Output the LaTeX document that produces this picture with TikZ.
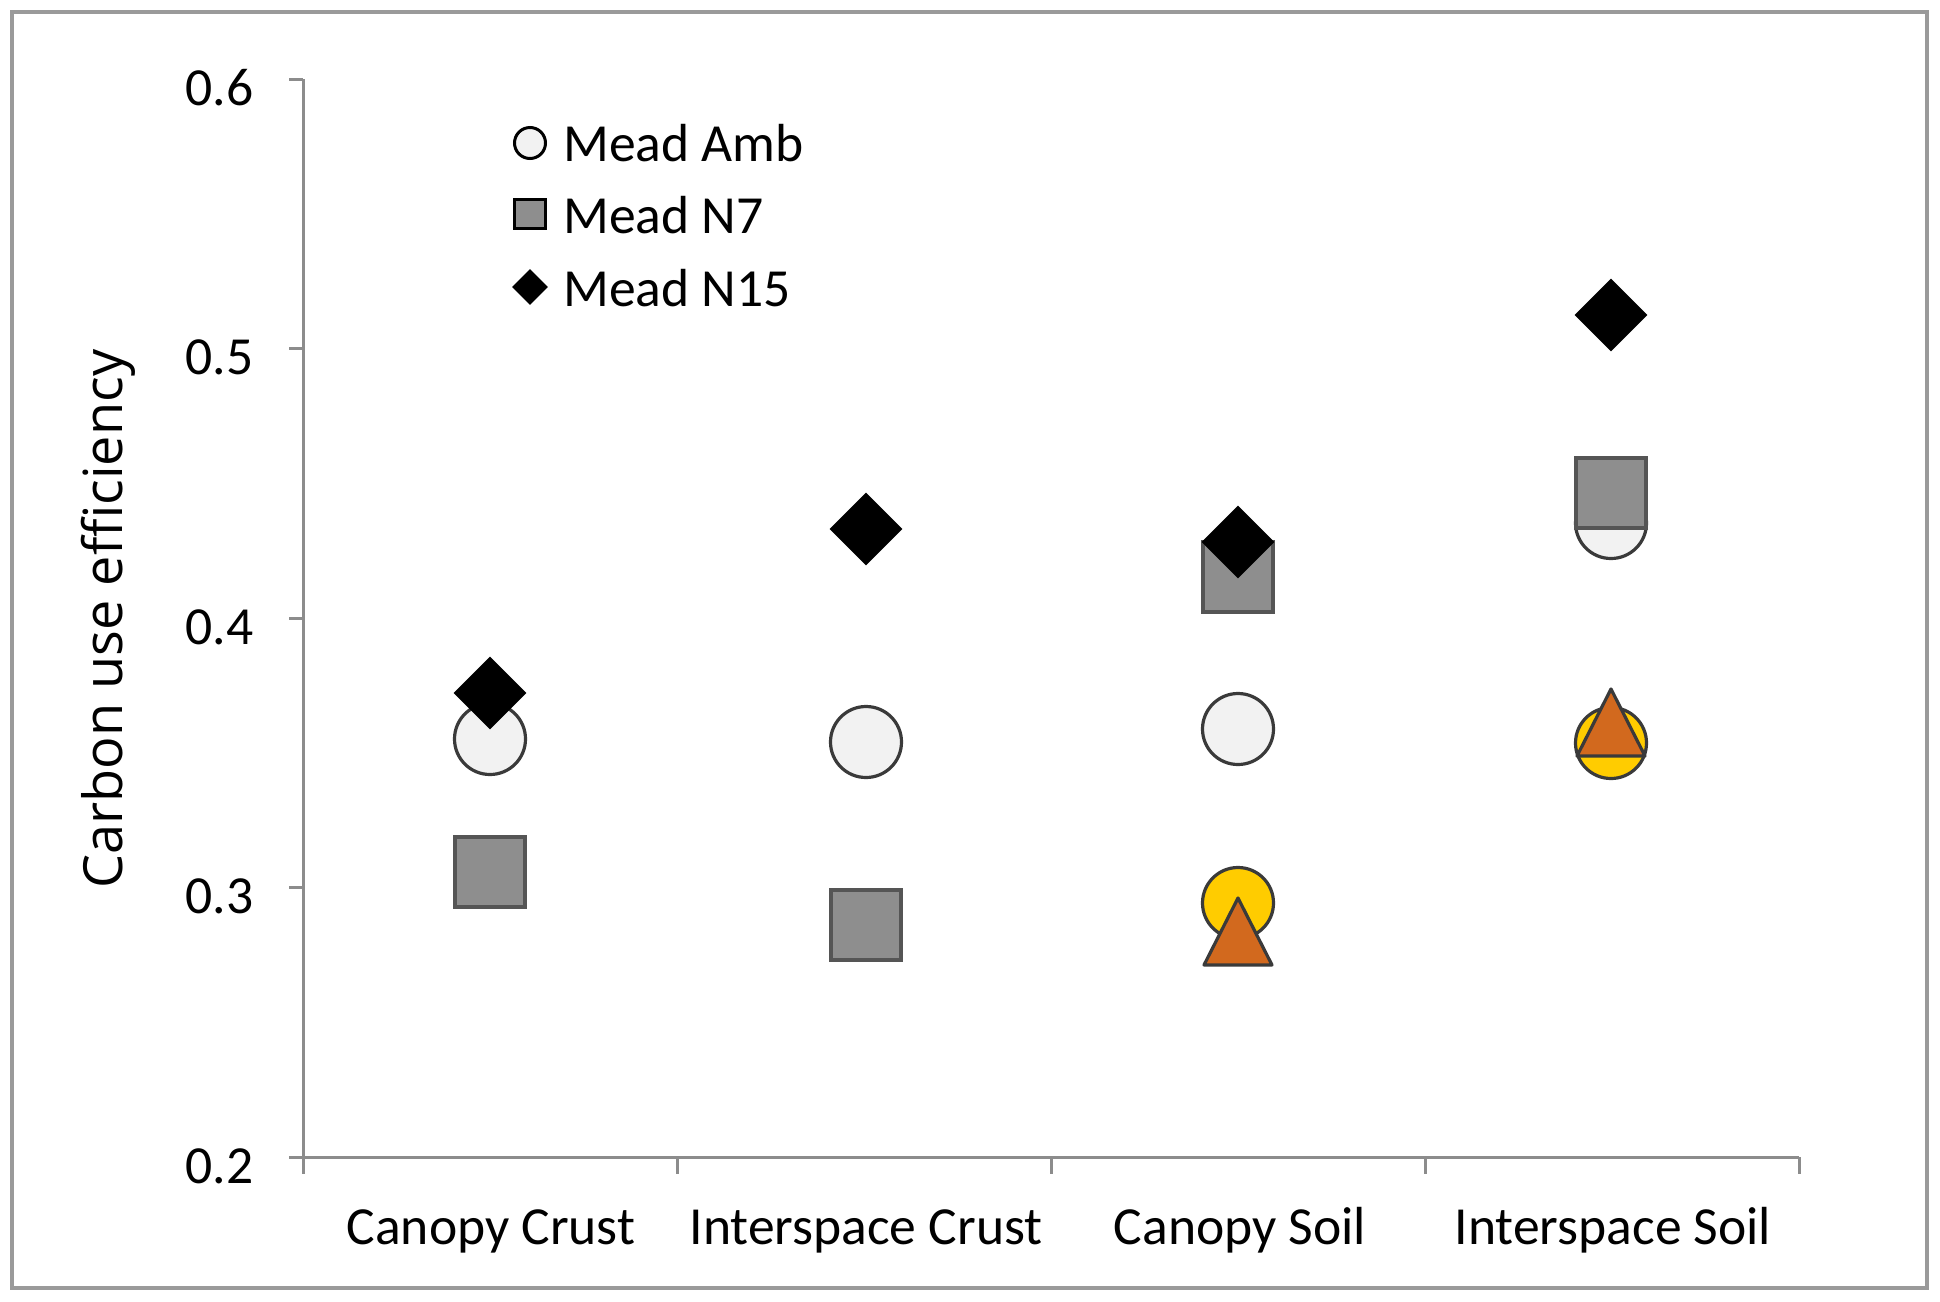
\documentclass[tikz,border=0pt]{standalone}
\usepackage{fontspec}
\setmainfont{Carlito}
\newfontfamily\labfont{Open Sans}
\usetikzlibrary{shapes.geometric}
\definecolor{axisgray}{HTML}{8C8C8C}
\definecolor{framegray}{HTML}{9A9A9A}
\definecolor{ambfill}{HTML}{F2F2F2}
\definecolor{sqfill}{HTML}{8E8E8E}
\definecolor{sqline}{HTML}{555555}
\definecolor{mkline}{HTML}{3A3A3A}
\definecolor{yelfill}{HTML}{FFCC00}
\definecolor{orfill}{HTML}{D2691E}
\tikzset{
  axisline/.style={draw=axisgray, line width=1.5pt},
  amb/.style={circle, draw=mkline, fill=ambfill, line width=1.6pt, minimum size=35.5pt, inner sep=0pt},
  nsev/.style={rectangle, draw=sqline, fill=sqfill, line width=2pt, minimum size=35pt, inner sep=0pt},
  nfif/.style={diamond, fill=black, minimum width=36.5pt, minimum height=36.5pt, inner sep=0pt},
  yel/.style={circle, draw=mkline, fill=yelfill, line width=1.6pt, minimum size=35.5pt, inner sep=0pt},
  tri/.style={draw=mkline, fill=orfill, line width=1.6pt, line join=round},
  lamb/.style={circle, draw=black, fill=ambfill, line width=1.5pt, minimum size=15.5pt, inner sep=0pt},
  lsev/.style={rectangle, draw=black, fill=sqfill, line width=1.5pt, minimum width=15.5pt, minimum height=14.5pt, inner sep=0pt},
  lfif/.style={diamond, fill=black, minimum width=18pt, minimum height=18pt, inner sep=0pt},
  ticklab/.style={anchor=east, inner sep=0pt, font=\fontsize{26.8}{32}\selectfont},
  catlab/.style={anchor=base, inner sep=0pt, font=\fontsize{26.8}{32}\selectfont},
  leglab/.style={anchor=base west, inner sep=0pt, font=\fontsize{26.8}{32}\selectfont}
}
\begin{document}
\begin{tikzpicture}[x=0.5pt, y=-0.5pt]
\useasboundingbox (0,0) rectangle (1940,1302);
\fill[white] (0,0) rectangle (1940,1302);
\draw[draw=framegray, line width=2pt] (12,12) rectangle (1927,1288);

% axes
\draw[axisline] (303,79) -- (303,1157) -- (1799,1157);
\foreach \yy in {79,348.5,618,887.5,1157} \draw[axisline] (289,\yy) -- (303,\yy);
\foreach \xx in {303,677,1051,1425,1799} \draw[axisline] (\xx,1157) -- (\xx,1174);

% tick labels
\node[ticklab] (t6) at (254,88) {0.6};
\node[ticklab] (t5) at (254,357) {0.5};
\node[ticklab] (t4) at (254,627) {0.4};
\node[ticklab] (t3) at (254,896) {0.3};
\node[ticklab] (t2) at (254,1166) {0.2};

% category labels
\node[catlab] (c1) at (491,1244) {Canopy Crust};
\node[catlab] (c2) at (866,1244) {Interspace Crust};
\node[catlab] (c3) at (1240,1244) {Canopy Soil};
\node[catlab] (c4) at (1613,1244) {Interspace Soil};

% y label
\node[rotate=90, inner sep=0pt, font=\labfont\fontsize{27}{32}\selectfont] (ylab) at (108,619) {Carbon use efficiency};

% Mead Amb circles
\node[amb] (ccA) at (490,739) {};
\node[amb] (icA) at (866,742) {};
\node[amb] (csA) at (1238,729) {};
\node[amb] (isA) at (1611,523) {};
% Mead N7 squares
\node[nsev] (ccS) at (490,872) {};
\node[nsev] (icS) at (866,925) {};
\node[nsev] (csS) at (1238,577) {};
\node[nsev] (isS) at (1611,493) {};
% Mead N15 diamonds
\node[nfif] (ccD) at (490,693) {};
\node[nfif] (icD) at (866,529) {};
\node[nfif] (csD) at (1238,542) {};
\node[nfif] (isD) at (1611,315) {};
% yellow circles
\node[yel] (csY) at (1238,903) {};
\node[yel] (isY) at (1611,743) {};
% orange triangles
\draw[tri] (1204,965) -- (1238,898) -- (1272,965) -- cycle;
\draw[tri] (1577,756) -- (1611,689) -- (1645,756) -- cycle;

% legend
\node[lamb] (l1) at (530,143) {};
\node[lsev] (l2) at (530,214) {};
\node[lfif] (l3) at (530,287) {};
\node[leglab] (lt1) at (563,161) {Mead Amb};
\node[leglab] (lt2) at (563,233) {Mead N7};
\node[leglab] (lt3) at (563,306) {Mead N15};
\end{tikzpicture}
\end{document}
